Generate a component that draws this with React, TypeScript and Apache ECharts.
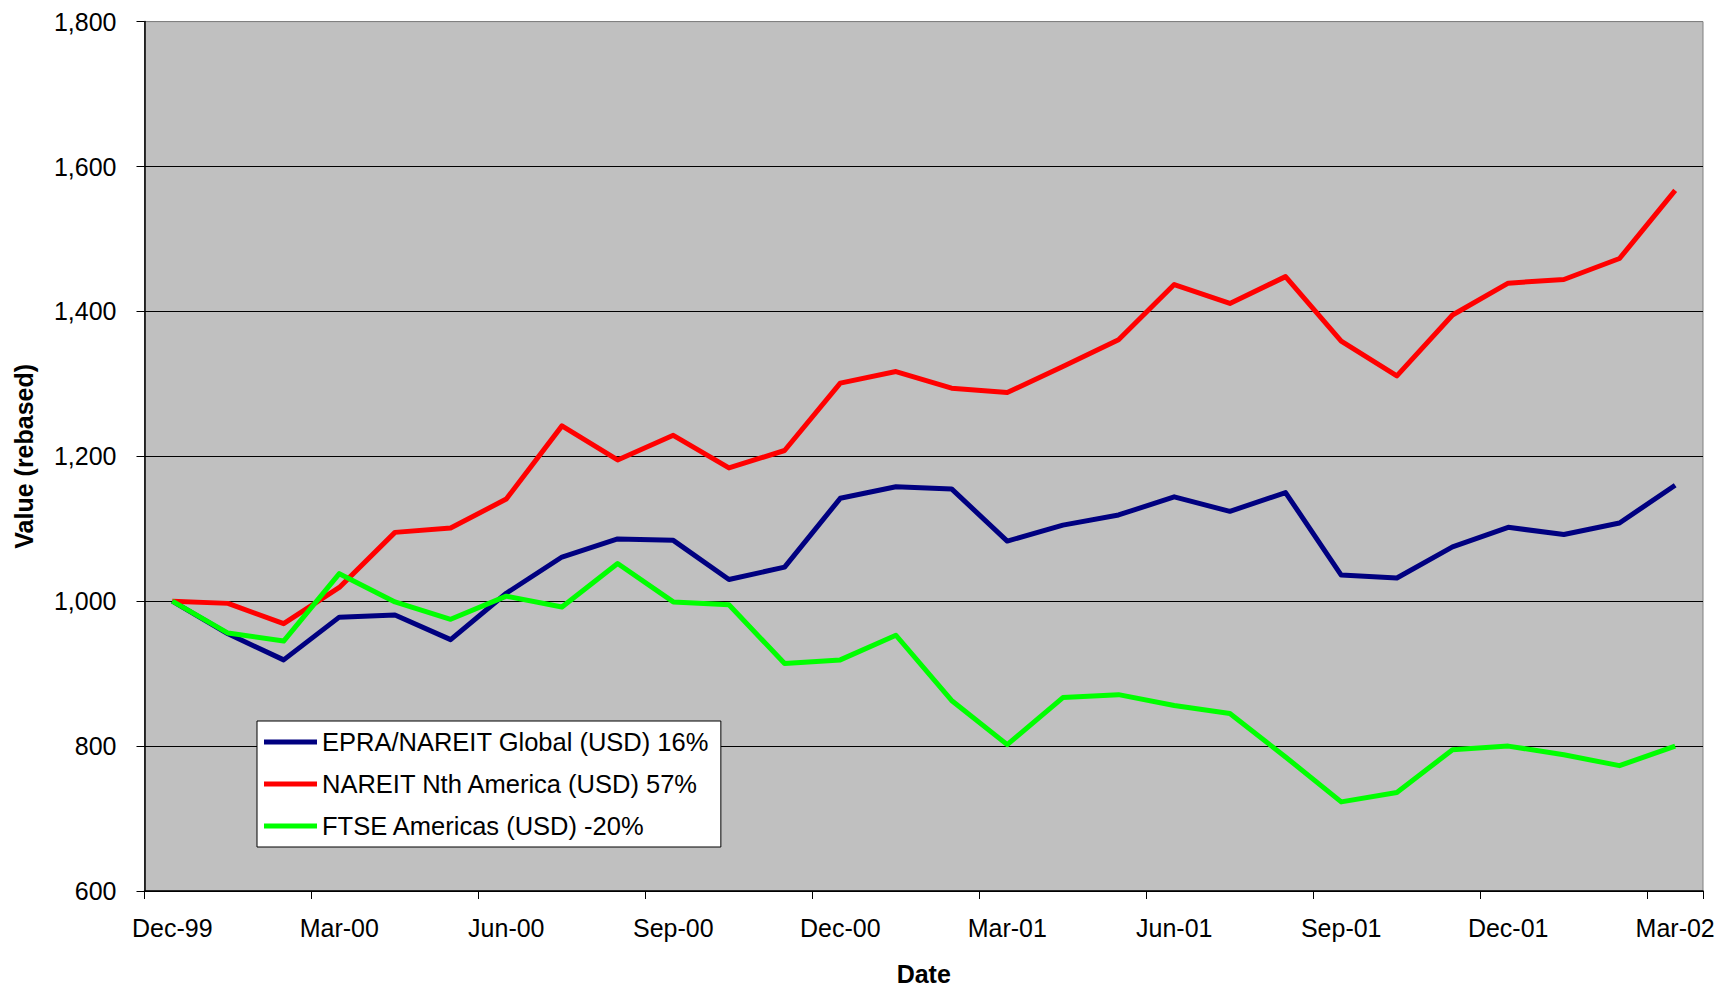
import React, { useEffect, useRef } from "react";
import * as echarts from "echarts";

const months = [
  "Dec-99", "Jan-00", "Feb-00", "Mar-00", "Apr-00", "May-00", "Jun-00", "Jul-00",
  "Aug-00", "Sep-00", "Oct-00", "Nov-00", "Dec-00", "Jan-01", "Feb-01", "Mar-01",
  "Apr-01", "May-01", "Jun-01", "Jul-01", "Aug-01", "Sep-01", "Oct-01", "Nov-01",
  "Dec-01", "Jan-02", "Feb-02", "Mar-02",
];

const globalUSD = [
  1000, 955, 919, 978, 981, 947, 1011, 1061, 1086, 1084, 1030, 1047,
  1142, 1158, 1155, 1083, 1105, 1119, 1144, 1124, 1150, 1036, 1032, 1075,
  1102, 1092, 1108, 1160,
];

const nthAmericaUSD = [
  1000, 997, 969, 1019, 1095, 1101, 1141, 1242, 1195, 1229, 1184, 1208,
  1301, 1317, 1294, 1288, 1324, 1361, 1437, 1411, 1448, 1359, 1311, 1395,
  1439, 1444, 1473, 1567,
];

const americasUSD = [
  1000, 956, 945, 1038, 999, 975, 1007, 992, 1052, 999, 995, 914,
  919, 953, 863, 802, 867, 871, 856, 845, 785, 723, 736, 795,
  800, 788, 773, 800,
];

const seriesNames = [
  "EPRA/NAREIT Global (USD) 16%",
  "NAREIT Nth America (USD) 57%",
  "FTSE Americas (USD) -20%",
];
const seriesColors = ["#000080", "#FF0000", "#00FF00"];

const FONT = "'Liberation Sans', Arial, sans-serif";

export default function App() {
  const ref = useRef<HTMLDivElement>(null);

  useEffect(() => {
    if (!ref.current) return;
    const chart = echarts.init(ref.current, null, { renderer: "svg" });
    const data = [globalUSD, nthAmericaUSD, americasUSD];
    chart.setOption({
      animation: false,
      backgroundColor: "#FFFFFF",
      textStyle: { fontFamily: FONT, color: "#000" },
      grid: {
        left: 144.5,
        right: 17,
        top: 21.6,
        bottom: 95.5,
        show: true,
        backgroundColor: "#C0C0C0",
        borderColor: "#808080",
        borderWidth: 1,
      },
      legend: {
        orient: "vertical",
        left: 257,
        top: 721,
        backgroundColor: "#FFFFFF",
        borderColor: "#000",
        borderWidth: 1,
        borderRadius: 0,
        padding: [7, 12, 7, 7],
        itemGap: 14,
        itemWidth: 53,
        itemHeight: 5,
        icon: "rect",
        textStyle: { fontFamily: FONT, fontSize: 25.5, color: "#000", lineHeight: 28 },
        data: seriesNames,
      },
      xAxis: {
        type: "category",
        data: months,
        boundaryGap: true,
        name: "Date",
        nameLocation: "middle",
        nameGap: 70,
        nameTextStyle: { fontFamily: FONT, fontSize: 25, fontWeight: "bold", color: "#000" },
        axisLine: { lineStyle: { color: "#000", width: 1.5 } },
        axisTick: { show: true, interval: 2, length: 8, lineStyle: { color: "#000" } },
        axisLabel: { interval: 2, margin: 24, fontFamily: FONT, fontSize: 25, color: "#000" },
        splitLine: { show: false },
      },
      yAxis: {
        type: "value",
        min: 600,
        max: 1800,
        interval: 200,
        name: "Value (rebased)",
        nameLocation: "middle",
        nameGap: 108,
        nameTextStyle: { fontFamily: FONT, fontSize: 25, fontWeight: "bold", color: "#000" },
        axisLine: { show: true, lineStyle: { color: "#000", width: 1.5 } },
        axisTick: { show: true, length: 8, lineStyle: { color: "#000" } },
        axisLabel: {
          margin: 28,
          fontFamily: FONT,
          fontSize: 25,
          color: "#000",
          formatter: (v: number) => v.toLocaleString("en-US"),
        },
        splitLine: {
          show: true,
          lineStyle: {
            color: ["#000", "#000", "#000", "#000", "#000", "#000", "#808080"],
            width: 1,
          },
        },
      },
      series: seriesNames.map((name, i) => ({
        name,
        type: "line",
        data: data[i],
        color: seriesColors[i],
        symbol: "none",
        lineStyle: { width: 5, color: seriesColors[i], join: "round" },
        z: 2 + i,
      })),
    });
    return () => chart.dispose();
  }, []);

  return (
    <div
      ref={ref}
      style={{ position: "fixed", left: 0, top: 0, width: 1720, height: 991 }}
    />
  );
}
